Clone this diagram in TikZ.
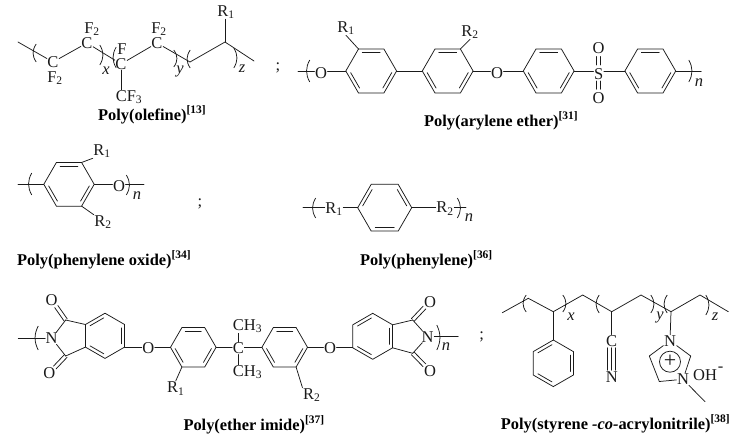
\documentclass[tikz,border=0pt]{standalone}
\usepackage{fontspec}
\setmainfont{Liberation Serif}
\usetikzlibrary{calc}
\definecolor{ink}{HTML}{1A1A1A}
\tikzset{
  bond/.style={draw=ink,line width=0.75pt,line cap=round},
  inner/.style={draw=ink,line width=0.75pt,line cap=round},
  paren/.style={draw=ink,line width=0.75pt},
  atom/.style={text=ink,font=\fontsize{16.5}{16.5}\selectfont,inner sep=0.6pt,outer sep=0pt},
  idx/.style={text=ink,font=\fontsize{16.5}{16.5}\selectfont\itshape,inner sep=0pt},
  semi/.style={text=ink,font=\fontsize{16.5}{16.5}\selectfont,inner sep=0pt},
  caption/.style={text=black,font=\fontsize{16.4}{16.4}\selectfont\bfseries,inner sep=0pt,anchor=base west},
}
% flat-top ring: 1 left, then clockwise on screen
\newcommand{\hexflat}[4]{%
  \coordinate (#1c) at (#2,#3);
  \foreach \i/\a in {1/180,2/240,3/300,4/0,5/60,6/120}{\coordinate (#1\i) at ({#2+#4*cos(\a)},{#3+#4*sin(\a)});}
  \draw[bond] (#11)--(#12)--(#13)--(#14)--(#15)--(#16)--cycle;}
% pointy-top ring: 1 top, then clockwise on screen
\newcommand{\hexpoint}[4]{%
  \coordinate (#1c) at (#2,#3);
  \foreach \i/\a in {1/270,2/330,3/30,4/90,5/150,6/210}{\coordinate (#1\i) at ({#2+#4*cos(\a)},{#3+#4*sin(\a)});}
  \draw[bond] (#11)--(#12)--(#13)--(#14)--(#15)--(#16)--cycle;}
\newcommand{\dbl}[2]{\draw[inner] ($(#1)!.15!(#2)!3.4pt!-90:(#2)$) -- ($(#2)!.15!(#1)!3.4pt!90:(#1)$);}
% offset parallel of a bond: {from}{to}{offset}{shorten start}{shorten end}
\newcommand{\para}[5]{\draw[bond,shorten <=#4pt,shorten >=#5pt] ($(#1)!#3pt!90:(#2)$) -- ($(#2)!#3pt!-90:(#1)$);}
\newcommand{\lpar}[3]{\draw[paren] ({#1+2.2},#2) .. controls ({#1-2},{#2+(#3-#2)*.35}) and ({#1-2},{#2+(#3-#2)*.65}) .. ({#1+2.2},#3);}
\newcommand{\rpar}[3]{\draw[paren] ({#1-2.2},#2) .. controls ({#1+2},{#2+(#3-#2)*.35}) and ({#1+2},{#2+(#3-#2)*.65}) .. ({#1-2.2},#3);}
\begin{document}
\begin{tikzpicture}[x=1pt,y=-1pt]
\useasboundingbox (0,0) rectangle (744,445);

% ---------- Poly(olefine)
\coordinate (a0) at (18,42);
\node[atom] (ac1) at (53,62) {C};
\node[atom] (ac2) at (87,43) {C};
\node[atom] (ac3) at (121,64) {C};
\node[atom] (ac4) at (157,43) {C};
\coordinate (a5) at (190,62);
\coordinate (a6) at (225,42);
\coordinate (a7) at (254,61);
\node[atom] (af1) at (55,78) {F\textsubscript{2}};
\node[atom] (af2) at (92,29) {F\textsubscript{2}};
\node[atom] (af3) at (122,49.5) {F};
\node[atom] (af4) at (159,29) {F\textsubscript{2}};
\node[atom] (acf) at (129,97) {CF\textsubscript{3}};
\node[atom] (ar1) at (226,12) {R\textsubscript{1}};
\draw[bond] (a0)--(ac1);
\draw[bond] (ac1)--(ac2);
\draw[bond] (ac2)--(ac3);
\draw[bond] (ac3)--(ac4);
\draw[bond] (ac4)--(a5)--(a6)--(a7);
\draw[bond] (ac3)--(ac3|-acf.north);
\draw[bond] (a6)--(a6|-ar1.south);
\lpar{34}{44}{62}
\rpar{102}{45}{65}
\node[idx] at (106,71) {x};
\lpar{114}{47}{68}
\rpar{176}{50}{67}
\node[idx] at (180,71) {y};
\lpar{188}{50}{68}
\rpar{236}{48}{68}
\node[idx] at (242,69) {z};
\node[semi] at (278,68) {;};
\node[caption] (capa) at (98,120) {Poly(olefine)\textsuperscript{[13]}};

% ---------- Poly(arylene ether)
\coordinate (b0) at (298,71);
\node[atom] (bo1) at (321,73) {O};
\hexflat{p}{371.2}{71}{25.4}
\dbl{p2}{p3}\dbl{p4}{p5}\dbl{p6}{p1}
\hexflat{q}{447.7}{71}{25.4}
\dbl{q2}{q3}\dbl{q4}{q5}\dbl{q6}{q1}
\node[atom] (br1) at (346,28) {R\textsubscript{1}};
\node[atom] (br2) at (470,32) {R\textsubscript{2}};
\node[atom] (bo2) at (497,73) {O};
\hexflat{s}{548.7}{71}{25.4}
\dbl{s2}{s3}\dbl{s4}{s5}\dbl{s6}{s1}
\node[atom] (bs) at (598.7,74) {S};
\node[atom] (bo3) at (598.7,48) {O};
\node[atom] (bo4) at (598.7,98) {O};
\hexflat{t}{650.3}{71}{25.4}
\dbl{t2}{t3}\dbl{t4}{t5}\dbl{t6}{t1}
\coordinate (b9) at (701.3,71);
\draw[bond] (b0)--(bo1.west|-b0);
\draw[bond] (bo1.east|-p1)--(p1);
\draw[bond] (p4)--(q1);
\draw[bond] (q4)--(bo2.west|-q4);
\draw[bond] (bo2.east|-s1)--(s1);
\draw[bond] (s4)--(bs.west|-s4);
\draw[bond] (bs.east|-t1)--(t1);
\draw[bond] (t4)--(b9);
\draw[bond] (p2)--(br1.south);
\draw[bond] (q3)--(br2.south);
\para{bs}{bo3}{2.1}{9}{8.5}
\para{bs}{bo3}{-2.1}{9}{8.5}
\para{bs}{bo4}{2.1}{7}{8.7}
\para{bs}{bo4}{-2.1}{7}{8.7}
\lpar{307.5}{60}{82}
\rpar{691}{60}{82}
\node[idx] at (699,83) {n};
\node[caption] (capb) at (424,126) {Poly(arylene ether)\textsuperscript{[31]}};

% ---------- Poly(phenylene oxide)
\coordinate (c0) at (18,184.3);
\hexflat{u}{69}{184.3}{25.2}
\dbl{u2}{u3}\dbl{u4}{u5}\dbl{u6}{u1}
\node[atom] (co) at (119,186) {O};
\coordinate (c9) at (144,184.3);
\node[atom] (cr1) at (102,151) {R\textsubscript{1}};
\node[atom] (cr2) at (103,222) {R\textsubscript{2}};
\draw[bond] (c0)--(u1);
\draw[bond] (u4)--(co.west|-u4);
\draw[bond] (co.east|-c9)--(c9);
\draw[bond] (u3)--(cr1.south west);
\draw[bond] (u5)--(cr2.north west);
\lpar{29.5}{173}{195}
\rpar{128.5}{175}{195}
\node[idx] at (137,196) {n};
\node[semi] at (200,204) {;};
\node[caption] (capc) at (17,265) {Poly(phenylene oxide)\textsuperscript{[34]}};

% ---------- Poly(phenylene)
\coordinate (d0) at (303,207.7);
\node[atom] (dr1) at (334,209) {R\textsubscript{1}};
\hexflat{v}{384.7}{207.7}{27}
\dbl{v1}{v2}\dbl{v3}{v4}\dbl{v5}{v6}
\node[atom] (dr2) at (445,208.5) {R\textsubscript{2}};
\coordinate (d9) at (466,207.7);
\draw[bond] (d0)--(dr1.west|-d0);
\draw[bond] (dr1.east|-v1)--(v1);
\draw[bond] (v4)--(dr2.west|-v4);
\draw[bond] (dr2.east|-d9)--(d9);
\lpar{313.5}{198}{218}
\rpar{459.5}{198}{218}
\node[idx] at (469,218) {n};
\node[caption] (capd) at (360,265) {Poly(phenylene)\textsuperscript{[36]}};

% ---------- Poly(ether imide)
\coordinate (e0) at (18.3,338.3);
\node[atom] (en1) at (51.7,338.3) {N};
\coordinate (ec1) at (65.7,320);
\coordinate (ec2) at (65.7,356);
\node[atom] (eo1) at (51.7,300) {O};
\node[atom] (eo2) at (49.3,373.3) {O};
\hexpoint{w}{105}{335.8}{22.6}
\dbl{w6}{w1}\dbl{w2}{w3}\dbl{w4}{w5}
\node[atom] (eo3) at (148.3,348.3) {O};
\hexflat{x}{193.3}{347.3}{22.8}
\dbl{x2}{x3}\dbl{x4}{x5}\dbl{x6}{x1}
\node[atom] (er1) at (175.7,388.3) {R\textsubscript{1}};
\node[atom] (ect) at (238.3,348.3) {C};
\node[atom,anchor=west] (em1) at (232.3,326) {CH\textsubscript{3}};
\node[atom,anchor=west] (em2) at (232.3,372) {CH\textsubscript{3}};
\hexflat{y}{284.7}{347.3}{22.8}
\dbl{y2}{y3}\dbl{y4}{y5}\dbl{y6}{y1}
\node[atom] (er2) at (311.7,395) {R\textsubscript{2}};
\node[atom] (eo4) at (330,348) {O};
\hexpoint{z}{372.7}{336.3}{23}
\dbl{z6}{z1}\dbl{z2}{z3}\dbl{z4}{z5}
\coordinate (ec3) at (412.7,320);
\coordinate (ec4) at (412.7,353.3);
\node[atom] (en2) at (427.7,336.7) {N};
\node[atom] (eo5) at (430,301.7) {O};
\node[atom] (eo6) at (430,371) {O};
\coordinate (e9) at (458.3,336);
\draw[bond] (e0)--(en1.west|-e0);
\draw[bond] (en1)--(ec1);
\draw[bond] (en1)--(ec2);
\draw[bond] (ec1)--(w6);
\draw[bond] (ec2)--(w5);
\para{ec1}{eo1}{1.9}{0}{8}
\para{ec1}{eo1}{-1.9}{0}{8}
\para{ec2}{eo2}{1.9}{0}{8}
\para{ec2}{eo2}{-1.9}{0}{8}
\draw[bond] (w3)--(eo3.west|-w3);
\draw[bond] (eo3.east|-x1)--(x1);
\draw[bond] (x4)--(ect.west|-x4);
\draw[bond] (x6)--(er1.north);
\draw[bond] (ect)--(ect|-em1.south);
\draw[bond] (ect)--(ect|-em2.north);
\draw[bond] (ect.east|-y1)--(y1);
\draw[bond] (y5)--(er2.north west);
\draw[bond] (y4)--(eo4.west|-y4);
\draw[bond] (eo4.east|-z5)--(z5);
\draw[bond] (z2)--(ec3);
\draw[bond] (z3)--(ec4);
\draw[bond] (ec3)--(en2);
\draw[bond] (ec4)--(en2);
\para{ec3}{eo5}{1.9}{0}{8}
\para{ec3}{eo5}{-1.9}{0}{8}
\para{ec4}{eo6}{1.9}{0}{8}
\para{ec4}{eo6}{-1.9}{0}{8}
\draw[bond] (en2.east|-e9)--(e9);
\lpar{36}{326}{350}
\rpar{439}{325}{350}
\node[idx] at (446,347) {n};
\node[semi] at (481.7,336.7) {;};
\node[caption] (cape) at (183.3,430) {Poly(ether imide)\textsuperscript{[37]}};

% ---------- Poly(styrene-co-acrylonitrile)
\foreach \n/\px/\py in {1/502.3/312.7,2/528.3/298.3,3/553.3/311.7,4/582.7/295,5/611.7/311.7,6/641/295,7/671/311.7,8/700/295,9/728.3/311.7}{\coordinate (f\n) at (\px,\py);}
\draw[bond] (f1)--(f2)--(f3)--(f4)--(f5)--(f6)--(f7)--(f8)--(f9);
\hexpoint{k}{553.3}{363.3}{23.3}
\dbl{k2}{k3}\dbl{k4}{k5}\dbl{k6}{k1}
\draw[bond] (f3)--(k1);
\node[atom] (fc) at (611.7,340.7) {C};
\node[atom] (fn) at (611.7,377.3) {N};
\draw[bond] (f5)--(fc);
\para{fc}{fn}{0}{7}{7}
\para{fc}{fn}{4}{7}{7}
\para{fc}{fn}{-4}{7}{7}
\node[atom] (fn1) at (670,340.7) {N};
\node[atom] (fn2) at (683,379.3) {N};
\coordinate (fp1) at (690.7,356);
\coordinate (fp2) at (649.3,356);
\coordinate (fp3) at (659.3,381.5);
\coordinate (fm) at (705,401.7);
\draw[bond] (f7)--(fn1);
\draw[bond] (fn1)--(fp1);
\draw[bond] (fp1)--(fn2);
\draw[bond] (fn1)--(fp2);
\draw[bond] (fp2)--(fp3);
\draw[bond] (fp3)--(fn2);
\draw[bond] (fn2)--(fm);
\node[draw=ink,line width=0.75pt,circle,minimum size=21pt,inner sep=0pt,text=ink,font=\fontsize{22}{22}\selectfont] (fplus) at (670,361.7) {+};
\node[atom,anchor=west] (foh) at (692.5,375.5) {OH};
\node[atom] (fminus) at (720.7,369) {-};
\lpar{524}{295}{312}
\rpar{565}{295}{312}
\node[idx] at (571,317) {x};
\lpar{597}{295}{313}
\rpar{653}{295}{313}
\node[idx] at (660,317) {y};
\lpar{665}{295}{313}
\rpar{708}{295}{315}
\node[idx] at (715,317) {z};
\node[caption] (capf) at (500.7,429) {Poly(styrene \textit{-co-}acrylonitrile)\textsuperscript{[38]}};
\end{tikzpicture}
\end{document}
